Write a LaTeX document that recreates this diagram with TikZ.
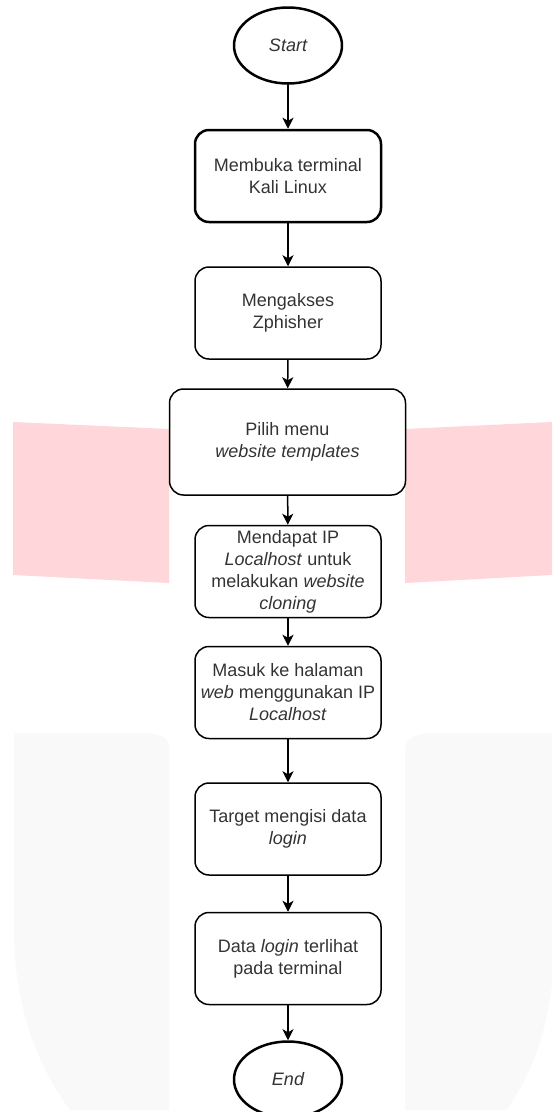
\documentclass[tikz,border=0pt]{standalone}
\usepackage{fontspec}
\setmainfont{Liberation Sans}
\usetikzlibrary{arrows.meta,shapes.geometric}
\definecolor{pinkwm}{RGB}{255,214,218}
\definecolor{graywm}{RGB}{249,249,249}
\definecolor{teks}{RGB}{51,51,51}

\begin{document}
\begin{tikzpicture}[line cap=round,line join=round,>={Stealth[length=11pt,width=11pt,inset=3pt]},x=1pt,y=-1pt,
  proses/.style={draw=black,rounded corners=14pt,line width=1.5pt,minimum width=186pt,minimum height=92pt,inner sep=2pt,align=center,text=teks,font=\fontsize{18}{22}\selectfont},
  terminator/.style={ellipse,draw=black,line width=2.5pt,minimum width=108pt,minimum height=76pt,inner sep=0pt,text=teks,font=\fontsize{18}{22}\selectfont\itshape}]
\useasboundingbox (0,0) rectangle (552,1112);
\clip (0,0) rectangle (552,1112);
% watermark
\fill[pinkwm] (13,422) -- (169,429) -- (169,583) -- (13,575) -- cycle;
\fill[pinkwm] (405,429) -- (552,422) -- (552,575) -- (405,583) -- cycle;
\fill[graywm] (70,1110) .. controls (40,1070) and (14,1010) .. (14,930) -- (14,733) -- (140,733) .. controls (160,733) and (169,737) .. (169,748) -- (169,1110) -- cycle;
\fill[graywm] (405,1110) -- (405,748) .. controls (405,737) and (418,733) .. (435,733) -- (552,733) -- (552,985) .. controls (545,1040) and (530,1075) .. (507,1110) -- cycle;
% langkah
\draw (288,45.5) node[terminator] (start) {Start};
\draw (288,176) node[proses,line width=2.5pt] (b1) {Membuka terminal\\Kali Linux};
\draw (288,313) node[proses] (b2) {Mengakses\\Zphisher};
\draw (287.5,442) node[proses,minimum width=236pt,minimum height=106pt] (b3) {Pilih menu\\\textit{website templates}};
\draw (288,571.5) node[proses] (b4) {Mendapat IP\\\textit{Localhost} untuk\\melakukan \textit{website}\\\textit{cloning}};
\draw (288,692.5) node[proses] (b5) {Masuk ke halaman\\\textit{web} menggunakan IP\\\textit{Localhost}};
\draw (288,829) node[proses] (b6) {Target mengisi data\\\textit{login}};
\draw (288,958.5) node[proses] (b7) {Data \textit{login} terlihat\\pada terminal};
\draw (288,1079.5) node[terminator] (end) {End};
% panah
\draw [->,line width=1.5pt] (start) -- (b1);
\draw [->,line width=1.5pt] (b1) -- (b2);
\draw [->,line width=1.5pt] (b2) -- (b3);
\draw [->,line width=1.5pt] (b3) -- (b4);
\draw [->,line width=1.5pt] (b4) -- (b5);
\draw [->,line width=1.5pt] (b5) -- (b6);
\draw [->,line width=1.5pt] (b6) -- (b7);
\draw [->,line width=1.5pt] (b7) -- (end);
\end{tikzpicture}
\end{document}
